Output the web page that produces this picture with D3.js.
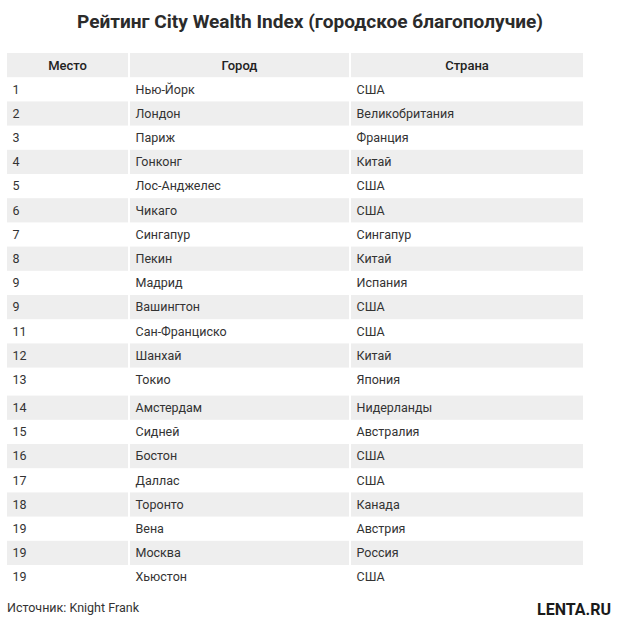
<!DOCTYPE html>
<html><head><meta charset="utf-8">
<script src="https://cdn.jsdelivr.net/npm/d3@7"></script>
<style>
html,body{margin:0;padding:0;background:#fff;}
svg{display:block;font-family:Roboto, "Noto Sans", sans-serif;}
</style></head>
<body>
<svg id="chart" width="620" height="626"></svg>
<script>
const title = "Рейтинг City Wealth Index (городское благополучие)";
const headers = ["Место", "Город", "Страна"];
const ranks = ["1","2","3","4","5","6","7","8","9","9","11","12","13","14","15","16","17","18","19","19","19"];
const cities = ["Нью-Йорк","Лондон","Париж","Гонконг","Лос-Анджелес","Чикаго","Сингапур","Пекин","Мадрид","Вашингтон","Сан-Франциско","Шанхай","Токио","Амстердам","Сидней","Бостон","Даллас","Торонто","Вена","Москва","Хьюстон"];
const countries = ["США","Великобритания","Франция","Китай","США","США","Сингапур","Китай","Испания","США","США","Китай","Япония","Нидерланды","Австралия","США","США","Канада","Австрия","Россия","США"];
const source = "Источник: Knight Frank";

const svg = d3.select("#chart");
const colX = [7, 130, 351, 583];
const gray = "#eeeeee";
const textColor = "#333333";

svg.append("text").attr("x", 310).attr("y", 28).attr("text-anchor", "middle")
  .attr("font-size", 19).attr("font-weight", 700).attr("fill", "#2b2b2b")
  .attr("textLength", 466).attr("lengthAdjust", "spacingAndGlyphs")
  .text(title);

// row layout
const headerTop = 53, headerH = 24.2;
const rowTops = [];
let y = headerTop + headerH;
ranks.forEach((r, i) => { rowTops.push(y); y += (i === 12 ? 28 : 24.2); });
const rowH = i => (i === 12 ? 28 : 24.2);

const cols = [0,1,2];
// header
const hg = svg.append("g");
hg.selectAll("rect").data(cols).join("rect")
  .attr("x", d => colX[d]).attr("y", headerTop)
  .attr("width", d => colX[d+1] - colX[d] - (d < 2 ? 2 : 0)).attr("height", headerH)
  .attr("fill", gray);
hg.selectAll("text").data(cols).join("text")
  .attr("x", d => (colX[d] + colX[d+1] - (d<2?2:0)) / 2)
  .attr("y", headerTop + headerH/2).attr("dy", "0.35em")
  .attr("text-anchor", "middle").attr("font-size", 13).attr("font-weight", 500)
  .attr("fill", "#222").text(d => headers[d]);

const rows = ranks.map((r, i) => ({i, vals: [r, cities[i], countries[i]]}));
const rg = svg.append("g").selectAll("g").data(rows).join("g");
rg.filter(d => d.i % 2 === 1).selectAll("rect").data(d => cols.map(c => ({c, i: d.i}))).join("rect")
  .attr("x", d => colX[d.c]).attr("y", d => rowTops[d.i])
  .attr("width", d => colX[d.c+1] - colX[d.c] - (d.c < 2 ? 2 : 0))
  .attr("height", d => rowH(d.i)).attr("fill", gray);
rg.selectAll("text").data(d => d.vals.map((v, c) => ({v, c, i: d.i}))).join("text")
  .attr("x", d => colX[d.c] + 5.5)
  .attr("y", d => rowTops[d.i] + 12.1).attr("dy", "0.35em")
  .attr("font-size", 12.5).attr("fill", textColor).text(d => d.v);

svg.append("text").attr("x", 7).attr("y", 612).attr("font-size", 12.5)
  .attr("fill", textColor).text(source);

svg.append("text").attr("x", 611).attr("y", 615).attr("text-anchor", "end")
  .attr("font-size", 16).attr("font-weight", 700).attr("fill", "#1a1a1a")
  .text("LENTA.RU");
</script>
</body></html>
